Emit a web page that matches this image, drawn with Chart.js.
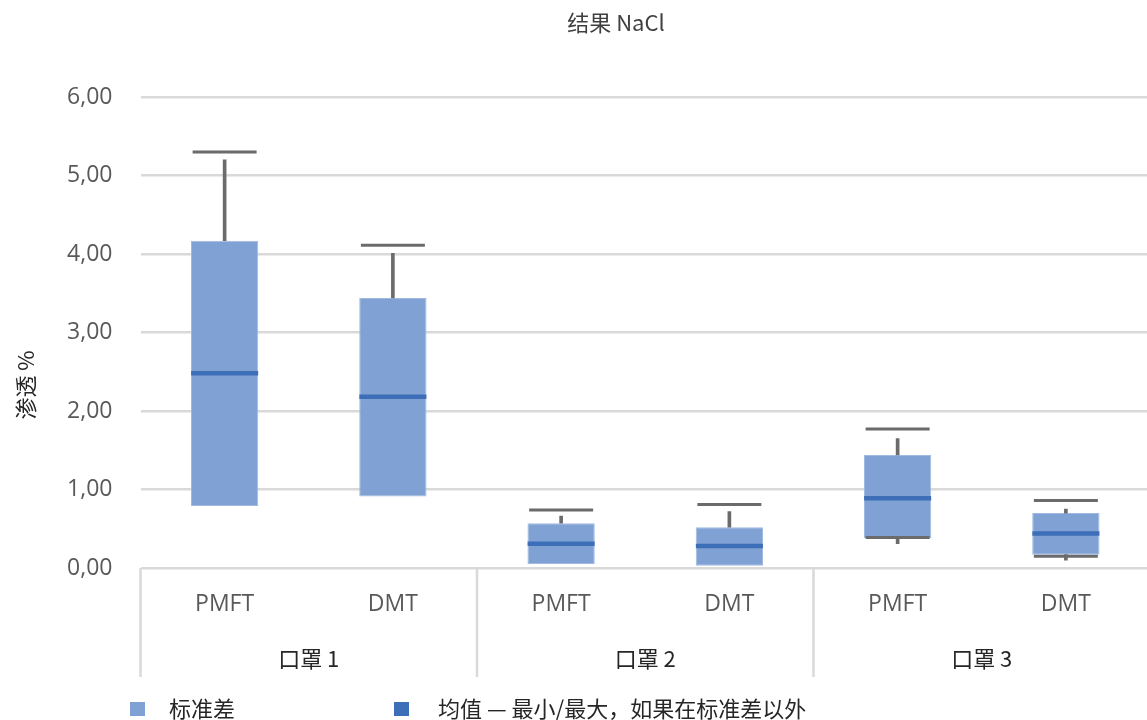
<!DOCTYPE html>
<html>
<head>
<meta charset="utf-8">
<script src="https://cdn.jsdelivr.net/npm/chart.js@4.4.1/dist/chart.umd.min.js"></script>
<style>
  html, body { margin: 0; padding: 0; overflow: hidden; background: #ffffff; }
  #wrap { width: 1150px; height: 720px; }
</style>
</head>
<body>
<div id="wrap"><canvas id="c" width="1150" height="720"></canvas></div>
<script>
// ---- data ----
const categories = ["PMFT", "DMT", "PMFT", "DMT", "PMFT", "DMT"];
const groups = ["口罩 1", "口罩 2", "口罩 3"];
const sdLow = [0.79, 0.91, 0.05, 0.03, 0.38, 0.17];
const sdHigh = [4.17, 3.44, 0.57, 0.52, 1.44, 0.70];
const meanVals = [2.48, 2.18, 0.31, 0.28, 0.89, 0.44];
const whiskerTop = [5.20, 4.01, 0.66, 0.72, 1.65, 0.75];
const maxVals = [5.30, 4.11, 0.74, 0.81, 1.77, 0.86];
const whiskerBottom = [null, null, null, null, 0.31, 0.10];
const minVals = [null, null, null, null, 0.39, 0.15];
const yTicks = [0, 1, 2, 3, 4, 5, 6];

const titleText = "结果 NaCl";
const yTitle = "渗透 %";
const legendItems = ["标准差", "均值 — 最小/最大，如果在标准差以外"];

const BOX = "rgba(127,161,211,1)";
const MEAN = "#3D6EB8";
const GRAY = "#6B6B6B";
const GRID = "#D9D9D9";
const CJK = "'Noto Sans CJK SC', 'Noto Sans', sans-serif";
const LAT = "'Open Sans', 'Noto Sans', sans-serif";

const boxData = sdLow.map((v, i) => [v, sdHigh[i]]);
const upWhisker = sdHigh.map((v, i) => whiskerTop[i] == null ? null : [v, whiskerTop[i]]);
const lowWhisker = sdLow.map((v, i) => whiskerBottom[i] == null ? null : [whiskerBottom[i], v]);

const decor = {
  id: 'decor',
  afterDraw(chart) {
    const ctx = chart.ctx;
    const xs = chart.scales.x;
    const area = chart.chartArea;
    const n = categories.length;
    const step = xs.getPixelForValue(1) - xs.getPixelForValue(0);
    ctx.save();
    // separators
    ctx.strokeStyle = GRID;
    ctx.lineWidth = 2.5;
    for (let i = 0; i <= n; i += 2) {
      const x = xs.getPixelForValue(0) - step / 2 + i * step;
      ctx.beginPath();
      ctx.moveTo(x, area.bottom);
      ctx.lineTo(x, 677);
      ctx.stroke();
    }
    // category labels
    ctx.fillStyle = "#595959";
    ctx.font = "23px " + LAT;
    ctx.textAlign = "center";
    ctx.textBaseline = "middle";
    categories.forEach((c, i) => ctx.fillText(c, xs.getPixelForValue(i), 604));
    // group labels
    ctx.fillStyle = "#262626";
    ctx.font = "22px " + CJK;
    groups.forEach((g, k) => {
      const x = (xs.getPixelForValue(2 * k) + xs.getPixelForValue(2 * k + 1)) / 2;
      ctx.fillText(g, x, 659);
    });
    // title
    ctx.fillStyle = "#404040";
    ctx.font = "22px " + CJK;
    ctx.fillText(titleText, 616, 23);
    // y title
    ctx.save();
    ctx.translate(26, 385);
    ctx.rotate(-Math.PI / 2);
    ctx.fillStyle = "#262626";
    ctx.font = "22px " + CJK;
    ctx.fillText(yTitle, 0, 0);
    ctx.restore();
    // legend
    ctx.textAlign = "left";
    ctx.font = "22px " + CJK;
    ctx.fillStyle = BOX;
    ctx.fillRect(130, 702, 15, 14);
    ctx.fillStyle = "#262626";
    ctx.fillText(legendItems[0], 169, 709);
    ctx.fillStyle = MEAN;
    ctx.fillRect(394, 702, 15, 14);
    ctx.fillStyle = "#262626";
    ctx.fillText(legendItems[1], 438, 709);
    ctx.restore();
  }
};

new Chart(document.getElementById('c'), {
  type: 'bar',
  data: {
    labels: categories,
    datasets: [
      { type: 'bar', label: 'sd', data: boxData, backgroundColor: BOX, borderColor: 'rgba(160,186,226,1)',
        borderWidth: 1, borderSkipped: false, grouped: false, barPercentage: 0.4, categoryPercentage: 1, order: 6 },
      { type: 'bar', label: 'upW', data: upWhisker, backgroundColor: GRAY, grouped: false, barThickness: 3, order: 5 },
      { type: 'bar', label: 'lowW', data: lowWhisker, backgroundColor: GRAY, grouped: false, barThickness: 3, order: 5 },
      { type: 'line', label: 'mean', data: meanVals, showLine: false, pointStyle: 'line', pointRadius: 33.5,
        pointHoverRadius: 33.5, pointBorderWidth: 4.5, pointHoverBorderWidth: 4.5, borderColor: MEAN, backgroundColor: MEAN, order: 3 },
      { type: 'line', label: 'max', data: maxVals, showLine: false, pointStyle: 'line', pointRadius: 32,
        pointHoverRadius: 32, pointBorderWidth: 3, pointHoverBorderWidth: 3, borderColor: GRAY, backgroundColor: GRAY, order: 2 },
      { type: 'line', label: 'min', data: minVals, showLine: false, pointStyle: 'line', pointRadius: 32,
        pointHoverRadius: 32, pointBorderWidth: 3, pointHoverBorderWidth: 3, borderColor: GRAY, backgroundColor: GRAY, order: 1 }
    ]
  },
  options: {
    responsive: false,
    animation: false,
    devicePixelRatio: 1,
    layout: { autoPadding: false, padding: { top: 97, left: 0, right: 0, bottom: 0 } },
    plugins: { legend: { display: false }, title: { display: false }, tooltip: { enabled: false } },
    scales: {
      x: {
        offset: true,
        grid: { display: false },
        border: { display: false },
        ticks: { display: false },
        afterFit(s) { s.height = 152; }
      },
      y: {
        min: 0, max: 6,
        afterBuildTicks(s) { s.ticks = yTicks.map(v => ({ value: v })); },
        grid: { color: GRID, lineWidth: 2.5, drawTicks: false },
        border: { display: false },
        ticks: {
          color: "#595959",
          font: { family: LAT, size: 23 },
          padding: 28,
          callback: v => v.toFixed(2).replace('.', ',')
        },
        afterFit(s) { s.width = 140.5; }
      }
    }
  },
  plugins: [decor]
});
</script>
</body>
</html>
